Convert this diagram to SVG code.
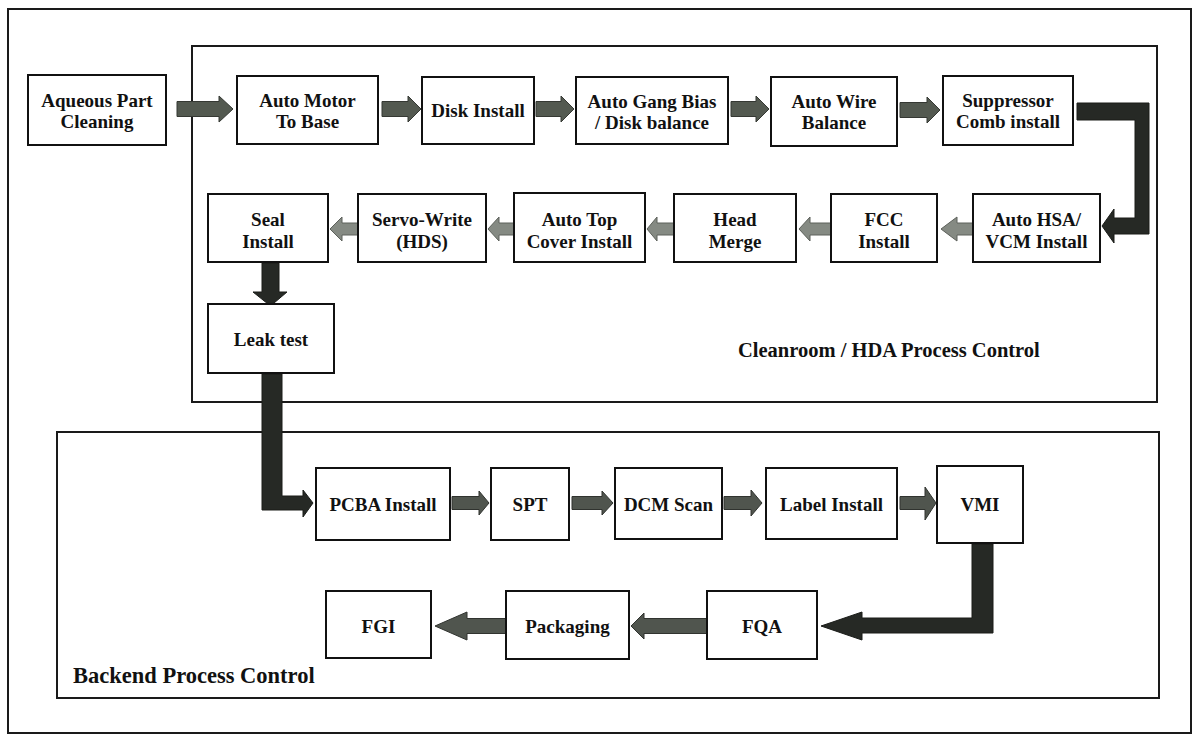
<svg xmlns="http://www.w3.org/2000/svg" width="1199" height="736" viewBox="0 0 1199 736">
<style>
.frame{fill:none;stroke:#1a1a1a;stroke-width:2}
.box{fill:#fff;stroke:#111;stroke-width:2}
.t{font-family:"Liberation Serif","Times New Roman",serif;font-weight:bold;font-size:19px;fill:#111;text-anchor:middle}
.title{font-family:"Liberation Serif","Times New Roman",serif;font-weight:bold;fill:#111}
.a1{fill:#535950;stroke:#353833;stroke-width:1}
.a2{fill:#858a83;stroke:#5c605a;stroke-width:1}
.a3{fill:#50554e;stroke:#30332f;stroke-width:1}
.big{fill:#262925;stroke:#1a1c19;stroke-width:1}
</style>
<rect width="1199" height="736" fill="#fff"/>
<g id="frames">
<rect class="frame" x="8" y="9" width="1183" height="724"/>
<rect class="frame" x="192" y="46" width="965" height="356"/>
<rect class="frame" x="57" y="432" width="1102" height="266"/>
<text class="title" x="738" y="357" font-size="20.5">Cleanroom / HDA Process Control</text>
<text class="title" x="73" y="683" font-size="22.5">Backend Process Control</text>
</g>
<g id="connectors">
<polygon class="a1" points="177,101.5 219,101.5 219,96 233,109 219,122 219,116.5 177,116.5"/>
<polygon class="a1" points="382,101.5 408,101.5 408,96 421,109 408,122 408,116.5 382,116.5"/>
<polygon class="a1" points="536,101.5 561,101.5 561,96 574,109 561,122 561,116.5 536,116.5"/>
<polygon class="a1" points="731,101.5 756,101.5 756,96 769,109 756,122 756,116.5 731,116.5"/>
<polygon class="a1" points="900,102.5 927,102.5 927,97 940,110 927,123 927,117.5 900,117.5"/>
<polygon class="big" points="1077,103 1149,103 1149,234 1114,234 1114,243 1102,226 1114,209 1114,218 1135,218 1135,120 1077,120"/>
<polygon class="a2" points="973,223 957,223 957,217 941,229 957,241 957,235 973,235"/>
<polygon class="a2" points="831,223 810,223 810,217 799,229 810,241 810,235 831,235"/>
<polygon class="a2" points="674,223 657,223 657,217 647,229 657,241 657,235 674,235"/>
<polygon class="a2" points="514,223 499,223 499,217 488,229 499,241 499,235 514,235"/>
<polygon class="a2" points="358,223 342,223 342,217 330,229 342,241 342,235 358,235"/>
<polygon class="big" points="262,263 279,263 279,292 287,292 270.5,306 253,292 262,292"/>
<polygon class="big" points="262,374 282,374 282,496 303,496 303,490 313,503 303,517 303,510 262,510"/>
<polygon class="a3" points="452,496.5 479,496.5 479,491 489,503 479,515 479,509.5 452,509.5"/>
<polygon class="a3" points="572,496.5 602,496.5 602,491 613,503 602,515 602,509.5 572,509.5"/>
<polygon class="a3" points="724,496.5 751,496.5 751,490 762,503 751,516 751,509.5 724,509.5"/>
<polygon class="a3" points="900,496.5 925,496.5 925,487 936,503 925,520 925,509.5 900,509.5"/>
<polygon class="big" points="972,544 993,544 993,633 862,633 862,640 821,626 862,612 862,618 972,618"/>
<polygon class="a3" points="707,618.5 644,618.5 644,613 631,626 644,639 644,633.5 707,633.5"/>
<polygon class="a3" points="506,618.5 467,618.5 467,612 435,626 467,640 467,633.5 506,633.5"/>
</g>
<g id="n-aqueous"><rect class="box" x="28" y="75" width="138" height="70"/><text class="t" x="97" y="107">Aqueous Part</text><text class="t" x="97" y="128">Cleaning</text></g>
<g id="n-automotor"><rect class="box" x="237" y="76" width="141" height="68"/><text class="t" x="307.5" y="107">Auto  Motor</text><text class="t" x="307.5" y="128">To Base</text></g>
<g id="n-disk"><rect class="box" x="422" y="77" width="112" height="67"/><text class="t" x="478" y="117">Disk Install</text></g>
<g id="n-gang"><rect class="box" x="576" y="77" width="152" height="67"/><text class="t" x="652" y="108">Auto Gang Bias</text><text class="t" x="652" y="129">/ Disk balance</text></g>
<g id="n-wire"><rect class="box" x="771" y="77" width="126" height="69"/><text class="t" x="834" y="108">Auto Wire</text><text class="t" x="834" y="129">Balance</text></g>
<g id="n-suppressor"><rect class="box" x="943" y="76" width="130" height="69"/><text class="t" x="1008" y="107">Suppressor</text><text class="t" x="1008" y="128">Comb install</text></g>
<g id="n-hsa"><rect class="box" x="973" y="194" width="127" height="68"/><text class="t" x="1036.5" y="226">Auto HSA/</text><text class="t" x="1036.5" y="248">VCM Install</text></g>
<g id="n-fcc"><rect class="box" x="831" y="194" width="106" height="68"/><text class="t" x="884" y="226">FCC</text><text class="t" x="884" y="248">Install</text></g>
<g id="n-head"><rect class="box" x="674" y="194" width="122" height="68"/><text class="t" x="735" y="226">Head</text><text class="t" x="735" y="248">Merge</text></g>
<g id="n-topcover"><rect class="box" x="514" y="193" width="131" height="69"/><text class="t" x="579.5" y="226">Auto Top</text><text class="t" x="579.5" y="248">Cover  Install</text></g>
<g id="n-servo"><rect class="box" x="358" y="194" width="128" height="68"/><text class="t" x="422" y="226">Servo-Write</text><text class="t" x="422" y="248">(HDS)</text></g>
<g id="n-seal"><rect class="box" x="208" y="194" width="120" height="68"/><text class="t" x="268" y="226">Seal</text><text class="t" x="268" y="248">Install</text></g>
<g id="n-leak"><rect class="box" x="208" y="304" width="126" height="69"/><text class="t" x="271" y="346">Leak test</text></g>
<g id="n-pcba"><rect class="box" x="316" y="468" width="134" height="72"/><text class="t" x="383" y="511">PCBA Install</text></g>
<g id="n-spt"><rect class="box" x="491" y="468" width="78" height="72"/><text class="t" x="530" y="511">SPT</text></g>
<g id="n-dcm"><rect class="box" x="615" y="468" width="107" height="71"/><text class="t" x="668.5" y="511">DCM Scan</text></g>
<g id="n-label"><rect class="box" x="766" y="468" width="131" height="71"/><text class="t" x="831.5" y="511">Label Install</text></g>
<g id="n-vmi"><rect class="box" x="937" y="466" width="86" height="77"/><text class="t" x="980" y="511">VMI</text></g>
<g id="n-fqa"><rect class="box" x="707" y="591" width="110" height="68"/><text class="t" x="762" y="633">FQA</text></g>
<g id="n-packaging"><rect class="box" x="506" y="591" width="123" height="68"/><text class="t" x="567.5" y="633">Packaging</text></g>
<g id="n-fgi"><rect class="box" x="326" y="591" width="105" height="67"/><text class="t" x="378.5" y="633">FGI</text></g>
</svg>
